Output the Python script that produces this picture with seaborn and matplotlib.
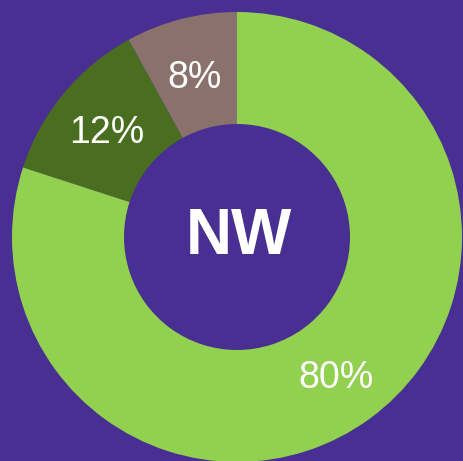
import matplotlib
matplotlib.use("Agg")
import matplotlib.pyplot as plt
import seaborn as sns

categories = ["Other", "Secondary", "Primary"]
values = [8, 12, 80]
colors = ["#8A716B", "#4A6E1F", "#92D050"]
center_label = "NW"
bg = "#4A2F92"

sns.set_theme(style="white")
plt.rcParams["font.family"] = ["Liberation Sans", "DejaVu Sans"]

fig = plt.figure(figsize=(4.64, 4.61), dpi=100, facecolor=bg)
ax = fig.add_axes([0, 0, 1, 1])
ax.set_facecolor(bg)

wedges, texts, autotexts = ax.pie(
    values,
    colors=colors,
    startangle=90,
    counterclock=True,
    radius=225,
    center=(237, 224),
    wedgeprops=dict(width=112, linewidth=0),
    autopct=lambda p: f"{p:.0f}%",
    pctdistance=0.75,
    textprops=dict(color="white", fontsize=27),
)
for t in autotexts:
    x, y = t.get_position()
    t.set_position((x, y - 4))
ax.text(239, 224, center_label, color="white", fontsize=46, fontweight="bold",
        ha="center", va="center")
ax.set_xlim(0, 464)
ax.set_ylim(0, 461)
ax.set_aspect("equal")
ax.axis("off")

fig.savefig("out.png", dpi=100, facecolor=bg)
